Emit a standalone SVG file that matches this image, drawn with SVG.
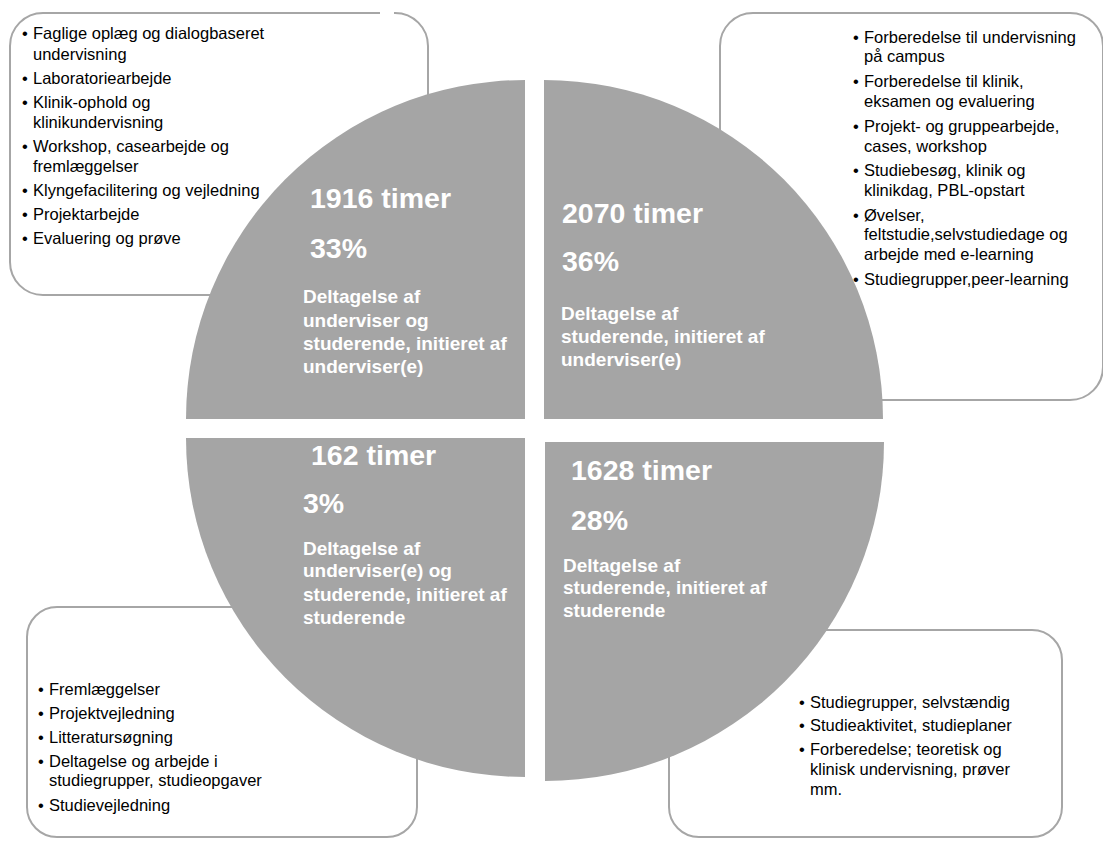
<svg xmlns="http://www.w3.org/2000/svg" width="1103" height="841" viewBox="0 0 1103 841">
<style>
.box{fill:#fff;stroke:#a6a6a6;stroke-width:2}
.q{fill:#a5a5a5}
.t{font-family:"Liberation Sans",Arial,sans-serif;font-size:16.5px;fill:#000}
.big{font-family:"Liberation Sans",Arial,sans-serif;font-size:28.5px;font-weight:bold;fill:#fff}
.lbl{font-family:"Liberation Sans",Arial,sans-serif;font-size:19px;font-weight:bold;fill:#fff}
</style>
<rect width="1103" height="841" fill="#fff"/>
<g id="box-tl">
<rect class="box" x="10" y="13" width="418" height="282" rx="33"/>
<line x1="380" y1="13" x2="394" y2="13" stroke="#fff" stroke-width="3"/>
<g class="t">
<text x="22" y="39">•</text><text x="33" y="39">Faglige oplæg og dialogbaseret</text>
<text x="33" y="60">undervisning</text>
<text x="22" y="84">•</text><text x="33" y="84">Laboratoriearbejde</text>
<text x="22" y="108">•</text><text x="33" y="108">Klinik-ophold og</text>
<text x="33" y="128">klinikundervisning</text>
<text x="22" y="152">•</text><text x="33" y="152">Workshop, casearbejde og</text>
<text x="33" y="172">fremlæggelser</text>
<text x="22" y="196">•</text><text x="33" y="196">Klyngefacilitering og vejledning</text>
<text x="22" y="220">•</text><text x="33" y="220">Projektarbejde</text>
<text x="22" y="244">•</text><text x="33" y="244">Evaluering og prøve</text>
</g>
</g>
<g id="box-tr">
<rect class="box" x="720" y="13" width="383" height="387" rx="33"/>
<g class="t">
<text x="853" y="43">•</text><text x="864" y="43">Forberedelse til undervisning</text>
<text x="864" y="62">på campus</text>
<text x="853" y="87">•</text><text x="864" y="87">Forberedelse til klinik,</text>
<text x="864" y="107">eksamen og evaluering</text>
<text x="853" y="132">•</text><text x="864" y="132">Projekt- og gruppearbejde,</text>
<text x="864" y="152">cases, workshop</text>
<text x="853" y="176">•</text><text x="864" y="176">Studiebesøg, klinik og</text>
<text x="864" y="196">klinikdag, PBL-opstart</text>
<text x="853" y="221">•</text><text x="864" y="221">Øvelser,</text>
<text x="864" y="240">feltstudie,selvstudiedage og</text>
<text x="864" y="260">arbejde med e-learning</text>
<text x="853" y="285">•</text><text x="864" y="285">Studiegrupper,peer-learning</text>
</g>
</g>
<g id="box-bl">
<rect class="box" x="27" y="607" width="390" height="230" rx="30"/>
<g class="t">
<text x="38" y="695">•</text><text x="49" y="695">Fremlæggelser</text>
<text x="38" y="719">•</text><text x="49" y="719">Projektvejledning</text>
<text x="38" y="743">•</text><text x="49" y="743">Litteratursøgning</text>
<text x="38" y="767">•</text><text x="49" y="767">Deltagelse og arbejde i</text>
<text x="49" y="786">studiegrupper, studieopgaver</text>
<text x="38" y="811">•</text><text x="49" y="811">Studievejledning</text>
</g>
</g>
<g id="box-br">
<rect class="box" x="669" y="630" width="393" height="207" rx="30"/>
<g class="t">
<text x="799" y="708">•</text><text x="810" y="708">Studiegrupper, selvstændig</text>
<text x="799" y="731">•</text><text x="810" y="731">Studieaktivitet, studieplaner</text>
<text x="799" y="755">•</text><text x="810" y="755">Forberedelse; teoretisk og</text>
<text x="810" y="775">klinisk undervisning, prøver</text>
<text x="810" y="795">mm.</text>
</g>
</g>
<g id="quadrant-tl">
<path class="q" d="M525,419 L186,419 A339,339 0 0 1 525,80 Z"/>
<text class="big" x="310" y="208">1916 timer</text>
<text class="big" x="310" y="258">33%</text>
<g class="lbl">
<text x="303" y="303">Deltagelse af</text>
<text x="303" y="327">underviser og</text>
<text x="303" y="350">studerende, initieret af</text>
<text x="303" y="373">underviser(e)</text>
</g>
</g>
<g id="quadrant-tr">
<path class="q" d="M544,419 L544,80 A339,339 0 0 1 883,419 Z"/>
<text class="big" x="562" y="223">2070 timer</text>
<text class="big" x="562" y="271">36%</text>
<g class="lbl">
<text x="561" y="320">Deltagelse af</text>
<text x="561" y="343">studerende, initieret af</text>
<text x="561" y="366">underviser(e)</text>
</g>
</g>
<g id="quadrant-bl">
<path class="q" d="M525,438 L525,777 A339,339 0 0 1 186,438 Z"/>
<text class="big" x="311" y="465">162 timer</text>
<text class="big" x="303" y="513">3%</text>
<g class="lbl">
<text x="303" y="555">Deltagelse af</text>
<text x="303" y="577">underviser(e) og</text>
<text x="303" y="601">studerende, initieret af</text>
<text x="303" y="624">studerende</text>
</g>
</g>
<g id="quadrant-br">
<path class="q" d="M545,442 L884,442 A339,339 0 0 1 545,781 Z"/>
<text class="big" x="571" y="480">1628 timer</text>
<text class="big" x="571" y="530">28%</text>
<g class="lbl">
<text x="563" y="572">Deltagelse af</text>
<text x="563" y="594">studerende, initieret af</text>
<text x="563" y="617">studerende</text>
</g>
</g>
<g id="connectors"/>
</svg>
